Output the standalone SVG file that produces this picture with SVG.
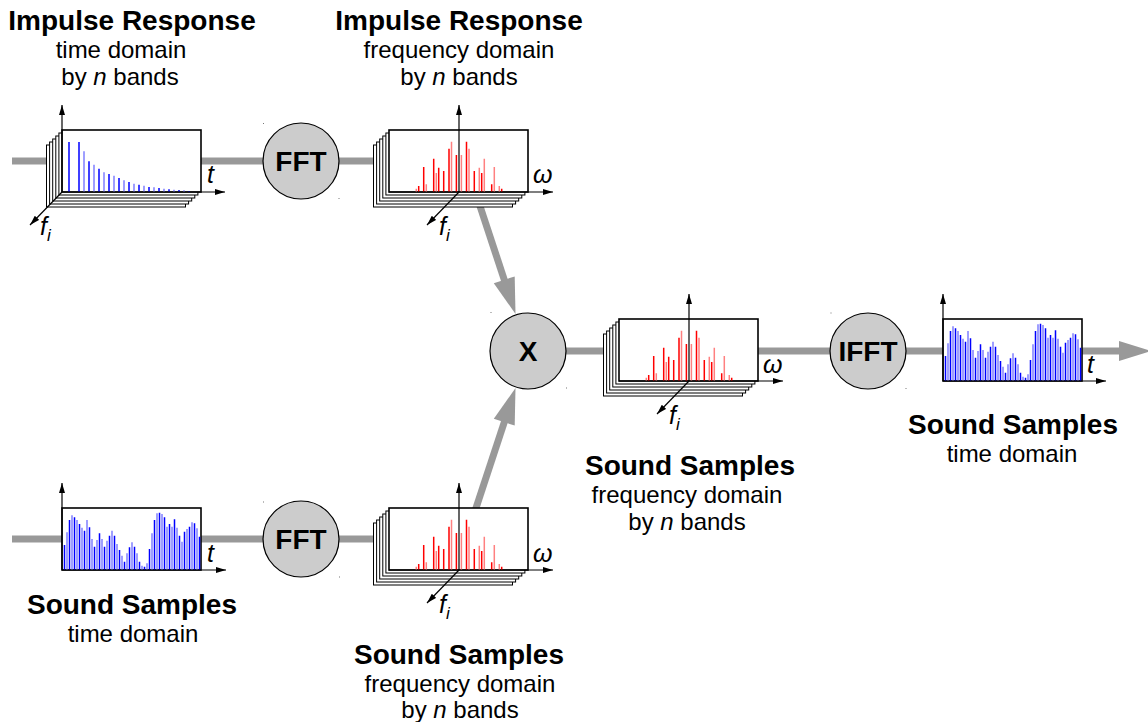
<svg xmlns="http://www.w3.org/2000/svg" width="1148" height="722" viewBox="0 0 1148 722">
<style>
.title{font-family:"Liberation Sans",Arial,sans-serif;font-weight:bold;font-size:28px;text-anchor:middle;fill:#000}
.sub{font-family:"Liberation Sans",Arial,sans-serif;font-size:24px;text-anchor:middle;fill:#000}
.op{font-family:"Liberation Sans",Arial,sans-serif;font-weight:bold;font-size:28px;text-anchor:middle;fill:#000}
.ax{font-family:"Liberation Sans",Arial,sans-serif;font-style:italic;font-size:25px;fill:#000}
.subi{font-size:17px}
.frame{fill:#fff;stroke:#000;stroke-width:1.6}
.axis{stroke:#000;stroke-width:1.2;fill:none;marker-end:url(#ah)}
.circ{fill:#ccc;stroke:#000;stroke-width:1.2}
.conn{stroke:#999;stroke-width:7;fill:none}
.head{fill:#999}
.dot{fill:#777}
</style>
<defs>
<marker id="ah" viewBox="0 0 10 6" refX="10" refY="3" markerWidth="10" markerHeight="6" markerUnits="userSpaceOnUse" orient="auto"><path d="M0,0 L10,3 L0,6 z" fill="#000"/></marker>
<g id="layers" fill="#fff" stroke="#000" stroke-width="1">
<rect x="-15.5" y="15" width="139" height="62"/>
<rect x="-12.4" y="12" width="139" height="62"/>
<rect x="-9.3" y="9" width="139" height="62"/>
<rect x="-6.2" y="6" width="139" height="62"/>
<rect x="-3.1" y="3" width="139" height="62"/>
</g>
<g id="decay" fill="none" stroke-width="1.5">
<path stroke="#0000ff" d="M7 0v-50M17 0v-50M27 0v-30.7M37 0v-23.3M47 0v-18M57 0v-14M67 0v-10M77 0v-7.3M87 0v-5M97 0v-4M107 0v-2.7M117 0v-2M127 0v-1"/>
<path stroke="#8080ff" d="M22 0v-40.7M32 0v-27.3M42 0v-19.7M52 0v-16.3M62 0v-11.7M72 0v-8.3M82 0v-6.3M92 0v-4.7M102 0v-3.3M112 0v-2.3M122 0v-1.7"/>
</g>
<g id="wave" fill="none" stroke-width="1.5">
<path stroke="#0000ff" d="M2.5 0v-25M7.5 0v-50M12.5 0v-52.7M17.5 0v-46M22.5 0v-39.3M27.5 0v-42.7M32.5 0v-23.3M37.5 0v-36.7M42.5 0v-23.3M47.5 0v-34.3M52.5 0v-34.3M57.5 0v-20M62.5 0v-8.3M67.5 0v-22.7M72.5 0v-23.3M77.5 0v-8.3M82.5 0v-3.3M87.5 0v-21M92.5 0v-50M97.5 0v-57.3M102.5 0v-52.7M107.5 0v-46M112.5 0v-50.7M117.5 0v-34.3M122.5 0v-38.3M127.5 0v-43.3M132.5 0v-46.7M137.5 0v-33.3"/>
<path stroke="#8080ff" d="M5 0v-37.7M10 0v-54.7M15 0v-50M20 0v-42.3M25 0v-50M30 0v-31M35 0v-30M40 0v-31M45 0v-29.3M50 0v-39.3M55 0v-26M60 0v-14.3M65 0v-16.7M70 0v-27.7M75 0v-16.7M80 0v-4.3M85 0v-6.7M90 0v-36.7M95 0v-56.7M100 0v-56M105 0v-43.3M110 0v-43.3M115 0v-42.3M120 0v-28.3M125 0v-41M130 0v-47.7M135 0v-41.7"/>
</g>
<g id="spec" fill="none" stroke-width="1.5">
<path stroke="#ff0000" d="M-40.3 0v-6M-35.3 0v-25M-25.3 0v-33.3M-20.3 0v-24.3M-15.3 0v-21M-10 0v-43.3M-2.6 0v-37M7.5 0v-50.3M15.3 0v-21M22.7 0v-19M32.7 0v-7.7M42.7 0v-3.3"/>
<path stroke="#ff8080" d="M-42.7 0v-3.3M-32.7 0v-7.7M-22.7 0v-19M-7.5 0v-50.3M2.4 0v-37M10 0v-43.3M20.3 0v-24.3M25.3 0v-33.3M35.3 0v-25M40.3 0v-6"/>
</g>
</defs>
<rect width="1148" height="722" fill="#fff"/>

<g id="connectors">
<line class="conn" x1="12" y1="161" x2="459" y2="161"/>
<line class="conn" x1="12" y1="539" x2="459" y2="539"/>
<line class="conn" x1="528" y1="351" x2="1121" y2="351"/>
<polygon class="head" points="1119,341 1151,351 1119,361"/>
<line class="conn" x1="468.6" y1="171.5" x2="505" y2="282"/>
<polygon class="head" points="514.7,276.4 515.5,314 493.8,283.2"/>
<line class="conn" x1="468.6" y1="530.5" x2="505" y2="420"/>
<polygon class="head" points="514.7,425.6 515.5,388 493.8,418.8"/>
</g>

<g id="ir-time">
<use href="#layers" x="62" y="130"/>
<rect class="frame" x="62" y="130" width="139" height="62"/>
<use href="#decay" x="62" y="192"/>
<line class="axis" x1="62" y1="192" x2="62" y2="105"/>
<line class="axis" x1="62" y1="192" x2="225" y2="192"/>
<line class="axis" x1="62" y1="192" x2="30" y2="225"/>
<text class="ax" x="207" y="183">t</text>
<text class="ax" x="40" y="235">f<tspan class="subi" dy="6">i</tspan></text>
<text class="title" x="132" y="30">Impulse Response</text>
<text class="sub" x="121" y="58">time domain</text>
<text class="sub" x="120" y="85">by <tspan font-style="italic">n</tspan> bands</text>
</g>

<g id="fft-top">
<circle class="circ" cx="301" cy="161" r="38"/>
<text class="op" x="301" y="171">FFT</text>
<rect class="dot" x="263" y="123" width="1" height="1"/>
<rect class="dot" x="338.5" y="198" width="1" height="1"/>
</g>

<g id="ir-freq">
<use href="#layers" x="389" y="130"/>
<rect class="frame" x="389" y="130" width="139" height="62"/>
<use href="#spec" x="459" y="192"/>
<line class="axis" x1="459" y1="192" x2="459" y2="105"/>
<line class="axis" x1="389" y1="192" x2="553" y2="192"/>
<line class="axis" x1="459" y1="192" x2="427" y2="225"/>
<text class="ax" x="533" y="183">ω</text>
<text class="ax" x="439" y="235">f<tspan class="subi" dy="6">i</tspan></text>
<text class="title" x="459" y="30">Impulse Response</text>
<text class="sub" x="459" y="58">frequency domain</text>
<text class="sub" x="459" y="85">by <tspan font-style="italic">n</tspan> bands</text>
</g>

<g id="multiply">
<circle class="circ" cx="528" cy="351" r="38"/>
<text class="op" x="528" y="361">X</text>
<rect class="dot" x="490.5" y="312" width="1" height="1"/>
<rect class="dot" x="566" y="387.5" width="1" height="1"/>
</g>

<g id="ss-freq-product">
<use href="#layers" x="619" y="319"/>
<rect class="frame" x="619" y="319" width="139" height="62"/>
<use href="#spec" x="689" y="381"/>
<line class="axis" x1="689" y1="381" x2="689" y2="294"/>
<line class="axis" x1="619" y1="381" x2="783" y2="381"/>
<line class="axis" x1="689" y1="381" x2="657" y2="414"/>
<text class="ax" x="763" y="373">ω</text>
<text class="ax" x="669" y="424">f<tspan class="subi" dy="6">i</tspan></text>
<text class="title" x="690" y="475">Sound Samples</text>
<text class="sub" x="687" y="503">frequency domain</text>
<text class="sub" x="687" y="530">by <tspan font-style="italic">n</tspan> bands</text>
</g>

<g id="ifft">
<circle class="circ" cx="868" cy="351" r="38"/>
<text class="op" x="868" y="361">IFFT</text>
<rect class="dot" x="830.5" y="312.5" width="1" height="1"/>
<rect class="dot" x="905.5" y="388" width="1" height="1"/>
</g>

<g id="ss-out">
<rect class="frame" x="943" y="319" width="139" height="62"/>
<use href="#wave" x="943" y="381"/>
<line class="axis" x1="943" y1="381" x2="943" y2="294"/>
<line class="axis" x1="943" y1="381" x2="1106" y2="381"/>
<text class="ax" x="1087" y="373">t</text>
<text class="title" x="1013" y="434">Sound Samples</text>
<text class="sub" x="1012" y="462">time domain</text>
</g>

<g id="ss-time">
<rect class="frame" x="62" y="508" width="139" height="62"/>
<use href="#wave" x="62" y="570"/>
<line class="axis" x1="62" y1="570" x2="62" y2="483"/>
<line class="axis" x1="62" y1="570" x2="226" y2="570"/>
<text class="ax" x="207" y="562">t</text>
<text class="title" x="132" y="614">Sound Samples</text>
<text class="sub" x="133" y="642">time domain</text>
</g>

<g id="fft-bottom">
<circle class="circ" cx="301" cy="539" r="38"/>
<text class="op" x="301" y="549">FFT</text>
<rect class="dot" x="263" y="501.5" width="1" height="1"/>
<rect class="dot" x="339" y="576.5" width="1" height="1"/>
</g>

<g id="ss-freq">
<use href="#layers" x="389" y="508"/>
<rect class="frame" x="389" y="508" width="139" height="62"/>
<use href="#spec" x="459" y="570"/>
<line class="axis" x1="459" y1="570" x2="459" y2="483"/>
<line class="axis" x1="389" y1="570" x2="553" y2="570"/>
<line class="axis" x1="459" y1="570" x2="427" y2="603"/>
<text class="ax" x="533" y="562">ω</text>
<text class="ax" x="439" y="613">f<tspan class="subi" dy="6">i</tspan></text>
<text class="title" x="459" y="664">Sound Samples</text>
<text class="sub" x="460" y="692">frequency domain</text>
<text class="sub" x="460" y="718">by <tspan font-style="italic">n</tspan> bands</text>
</g>
</svg>
